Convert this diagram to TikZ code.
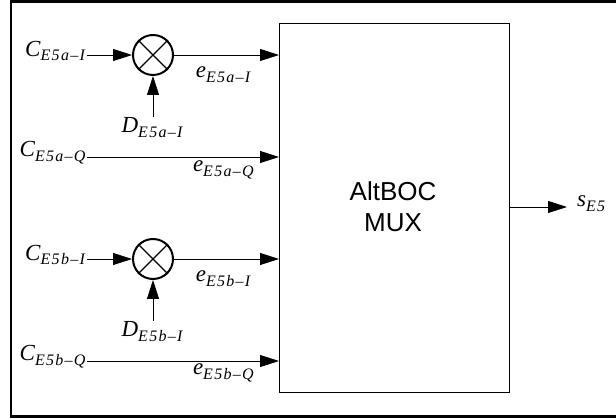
\documentclass[tikz,border=0pt]{standalone}
\usepackage{fontspec}
\setmainfont{Liberation Serif}
\setsansfont{Liberation Sans}
\usetikzlibrary{arrows.meta}
\newcommand{\lbl}[2]{\textit{#1}\raisebox{-0.45ex}{\fontsize{16}{16}\selectfont\addfontfeatures{LetterSpace=8}\textit{#2}}}
\begin{document}
\begin{tikzpicture}[x=1pt,y=-1pt,
  sig/.style={draw,line width=0.8pt,-{Triangle[length=19pt,width=12pt]}},
  mult/.style={draw,circle,line width=2pt,minimum size=40pt,inner sep=0pt},
  lab/.style={inner sep=0pt,font=\fontsize{23}{23}\selectfont},
  muxbox/.style={draw,line width=0.9pt}]
\useasboundingbox (0,0) rectangle (616,419);
\fill[white] (0,0) rectangle (616,419);
\draw[line width=2.5pt] (616,1.5) -- (11,1.5) -- (11,416.5) -- (616,416.5);
% MUX
\node[muxbox,minimum width=230pt,minimum height=369pt,anchor=north west,inner sep=0pt] (mux) at (279,23) {};
\node[align=center,font=\sffamily\fontsize{26}{31}\selectfont] (muxt) at (393,207) {AltBOC\\MUX};
% row 1
\node[mult] (m1) at (153,55) {};
\draw[line width=1.2pt] (m1.north west) -- (m1.south east) (m1.north east) -- (m1.south west);
\node[lab,anchor=east] (c1) at (87,51) {\lbl{C}{E5a--I}};
\node[lab,anchor=north] (d1) at (153,117) {\lbl{D}{E5a--I}};
\node[lab] (e1) at (224,75) {\lbl{e}{E5a--I}};
\coordinate (i1) at (mux.west |- m1);
\draw[sig] (c1.east |- m1) -- (m1);
\draw[sig] (d1.north) -- (m1);
\draw[sig] (m1) -- (i1);
% row 2
\node[lab,anchor=east] (c2) at (87,153) {\lbl{C}{E5a--Q}};
\node[lab] (e2) at (224,170) {\lbl{e}{E5a--Q}};
\coordinate (s2) at (87,157);
\coordinate (i2) at (mux.west |- s2);
\draw[sig] (s2) -- (i2);
% row 3
\node[mult] (m3) at (153,259) {};
\draw[line width=1.2pt] (m3.north west) -- (m3.south east) (m3.north east) -- (m3.south west);
\node[lab,anchor=east] (c3) at (87,255) {\lbl{C}{E5b--I}};
\node[lab,anchor=north] (d3) at (153,321) {\lbl{D}{E5b--I}};
\node[lab] (e3) at (224,279) {\lbl{e}{E5b--I}};
\coordinate (i3) at (mux.west |- m3);
\draw[sig] (c3.east |- m3) -- (m3);
\draw[sig] (d3.north) -- (m3);
\draw[sig] (m3) -- (i3);
% row 4
\node[lab,anchor=east] (c4) at (87,357) {\lbl{C}{E5b--Q}};
\node[lab] (e4) at (224,373) {\lbl{e}{E5b--Q}};
\coordinate (s4) at (87,361);
\coordinate (i4) at (mux.west |- s4);
\draw[sig] (s4) -- (i4);
% output
\node[lab,anchor=west] (out) at (577,204) {\lbl{s}{E5}};
\coordinate (o) at (567,207);
\draw[sig] (mux.east |- o) -- (o);
\end{tikzpicture}
\end{document}
